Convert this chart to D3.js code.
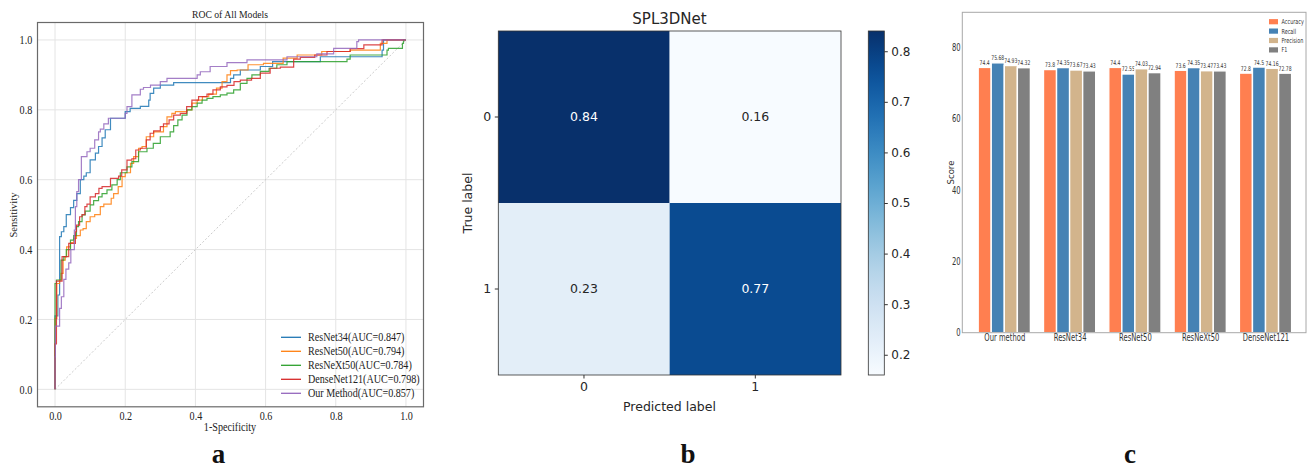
<!DOCTYPE html>
<html>
<head>
<meta charset="utf-8">
<script src="https://cdnjs.cloudflare.com/ajax/libs/d3/7.8.5/d3.min.js"></script>
<style>body{margin:0;background:#fff}</style>
</head>
<body>
<div id="fig"></div>
<script>
// ---- panel a : ROC curves ----
const rocNames = ['ResNet34(AUC=0.847)', 'ResNet50(AUC=0.794)', 'ResNeXt50(AUC=0.784)', 'DenseNet121(AUC=0.798)', 'Our Method(AUC=0.857)'];
const rocTicks = [0, 0.2, 0.4, 0.6, 0.8, 1.0];

const rocResNet34 = [[0,0],[0,0.12],[0.008,0.21],[0.013,0.27],[0.018,0.437],[0.025,0.451],[0.032,0.466],[0.044,0.50],[0.053,0.52],[0.062,0.541],[0.072,0.56],[0.082,0.60],[0.089,0.61],[0.10,0.62],[0.115,0.657],[0.124,0.676],[0.134,0.695],[0.143,0.72],[0.158,0.743],[0.172,0.776],[0.20,0.776],[0.214,0.795],[0.243,0.804],[0.267,0.81],[0.271,0.828],[0.281,0.847],[0.30,0.862],[0.338,0.871],[0.395,0.878],[0.50,0.878],[0.509,0.89],[0.528,0.90],[0.585,0.914],[0.62,0.924],[0.68,0.938],[0.756,0.938],[0.76,0.952],[0.932,0.952],[0.936,0.971],[0.95,1.0],[1,1]];
const rocResNet50 = [[0,0],[0,0.093],[0.005,0.203],[0.005,0.29],[0.013,0.303],[0.017,0.313],[0.023,0.332],[0.029,0.37],[0.033,0.38],[0.044,0.408],[0.053,0.42],[0.061,0.432],[0.072,0.44],[0.08,0.456],[0.089,0.46],[0.10,0.48],[0.113,0.494],[0.129,0.50],[0.139,0.523],[0.16,0.53],[0.167,0.547],[0.18,0.56],[0.191,0.58],[0.20,0.609],[0.215,0.62],[0.224,0.647],[0.238,0.666],[0.248,0.69],[0.26,0.695],[0.281,0.723],[0.295,0.737],[0.309,0.737],[0.319,0.752],[0.333,0.78],[0.343,0.79],[0.376,0.795],[0.39,0.80],[0.405,0.819],[0.42,0.828],[0.438,0.838],[0.46,0.845],[0.476,0.862],[0.49,0.881],[0.50,0.90],[0.519,0.912],[0.55,0.914],[0.594,0.929],[0.65,0.933],[0.69,0.948],[0.76,0.957],[0.841,0.967],[0.927,0.971],[0.946,0.99],[0.96,1.0],[1,1]];
const rocResNeXt50 = [[0,0],[0,0.218],[0.004,0.303],[0.017,0.313],[0.025,0.37],[0.032,0.38],[0.044,0.40],[0.053,0.427],[0.061,0.44],[0.067,0.466],[0.077,0.48],[0.086,0.499],[0.10,0.51],[0.11,0.528],[0.124,0.54],[0.134,0.551],[0.148,0.56],[0.162,0.571],[0.177,0.585],[0.186,0.60],[0.205,0.62],[0.219,0.637],[0.238,0.652],[0.262,0.68],[0.28,0.69],[0.30,0.704],[0.328,0.723],[0.338,0.737],[0.35,0.755],[0.362,0.771],[0.376,0.785],[0.39,0.80],[0.405,0.809],[0.419,0.819],[0.433,0.828],[0.45,0.833],[0.471,0.838],[0.49,0.843],[0.509,0.848],[0.528,0.857],[0.547,0.876],[0.561,0.89],[0.585,0.90],[0.61,0.91],[0.632,0.919],[0.661,0.929],[0.704,0.938],[0.832,0.938],[0.841,0.945],[0.908,0.957],[0.946,0.957],[0.95,0.971],[0.99,0.976],[0.993,0.99],[1,1]];
const rocDenseNet121 = [[0,0],[0,0.093],[0.004,0.13],[0.004,0.303],[0.02,0.31],[0.023,0.38],[0.039,0.38],[0.042,0.418],[0.058,0.418],[0.061,0.451],[0.07,0.47],[0.077,0.494],[0.085,0.50],[0.091,0.523],[0.10,0.53],[0.115,0.551],[0.125,0.56],[0.134,0.575],[0.158,0.58],[0.181,0.604],[0.19,0.61],[0.205,0.628],[0.219,0.656],[0.23,0.66],[0.243,0.685],[0.26,0.69],[0.271,0.714],[0.281,0.733],[0.30,0.74],[0.309,0.752],[0.325,0.76],[0.338,0.771],[0.357,0.785],[0.375,0.79],[0.39,0.809],[0.409,0.828],[0.433,0.838],[0.45,0.845],[0.471,0.857],[0.49,0.866],[0.51,0.87],[0.528,0.881],[0.56,0.885],[0.585,0.89],[0.613,0.905],[0.642,0.919],[0.68,0.922],[0.699,0.945],[0.74,0.95],[0.775,0.957],[0.841,0.967],[0.88,0.975],[0.932,0.986],[0.946,1.0],[1,1]];
const rocOurMethod = [[0,0],[0.001,0.093],[0.013,0.181],[0.018,0.232],[0.025,0.265],[0.031,0.315],[0.039,0.344],[0.045,0.362],[0.055,0.40],[0.058,0.456],[0.062,0.523],[0.067,0.566],[0.075,0.6],[0.091,0.666],[0.10,0.68],[0.113,0.69],[0.124,0.714],[0.129,0.737],[0.139,0.745],[0.152,0.76],[0.158,0.776],[0.20,0.776],[0.205,0.79],[0.219,0.809],[0.243,0.843],[0.252,0.859],[0.272,0.864],[0.30,0.871],[0.319,0.881],[0.352,0.89],[0.405,0.89],[0.414,0.90],[0.442,0.909],[0.49,0.924],[0.547,0.935],[0.661,0.943],[0.746,0.952],[0.794,0.96],[0.86,0.976],[0.865,0.995],[0.936,1.0],[1,1]];

// ---- panel b : confusion matrix ----
const cmLabels = ['0', '1'];
const cmRow0 = [0.84, 0.16];
const cmRow1 = [0.23, 0.77];
const cbTicks = [0.2, 0.3, 0.4, 0.5, 0.6, 0.7, 0.8];

// ---- panel c : bar chart ----
const barModels = ['Our method', 'ResNet34', 'ResNet50', 'ResNeXt50', 'DenseNet121'];
const metricNames = ['Accuracy', 'Recall', 'Precision', 'F1'];
const accuracy = [74.4, 73.8, 74.4, 73.6, 72.8];
const recall = [75.68, 74.35, 72.55, 74.35, 74.5];
const precision = [74.93, 73.67, 74.03, 73.47, 74.16];
const f1 = [74.32, 73.43, 72.94, 73.43, 72.78];
const scoreTicks = [0, 20, 40, 60, 80];

const rocColors = ['#1f77b4', '#ff7f0e', '#2ca02c', '#d62728', '#9467bd'];
const metricColors = ['#ff7f50', '#4682b4', '#d2b48c', '#808080'];
const serif = "'Liberation Serif','Times New Roman',serif";
const sans = "'DejaVu Sans',sans-serif";

const svg = d3.select('#fig').append('svg')
  .attr('width', 1310)
  .attr('height', 469)
  .style('background', '#fff');

// ================= a =================
const xA = d3.scaleLinear().domain([-0.05, 1.05]).range([37.5, 423.5]);
const yA = d3.scaleLinear().domain([-0.05, 1.05]).range([406.8, 22.5]);
const gA = svg.append('g');
const sxA = 0.88;

gA.selectAll('.vgrid').data(rocTicks).enter().append('line')
  .attr('x1', d => xA(d)).attr('x2', d => xA(d))
  .attr('y1', yA(-0.05)).attr('y2', yA(1.05))
  .attr('stroke', '#e4e4e4').attr('stroke-width', 1);
gA.selectAll('.hgrid').data(rocTicks).enter().append('line')
  .attr('y1', d => yA(d)).attr('y2', d => yA(d))
  .attr('x1', xA(-0.05)).attr('x2', xA(1.05))
  .attr('stroke', '#e4e4e4').attr('stroke-width', 1);

gA.append('line')
  .attr('x1', xA(0)).attr('y1', yA(0)).attr('x2', xA(1)).attr('y2', yA(1))
  .attr('stroke', '#bdbdbd').attr('stroke-width', 0.8).attr('stroke-dasharray', '2,2');

const rocSeries = [rocResNet34, rocResNet50, rocResNeXt50, rocDenseNet121, rocOurMethod];
const rocLine = d3.line().x(d => xA(d[0])).y(d => yA(d[1])).curve(d3.curveStepBefore);
rocSeries.forEach((s, i) => {
  gA.append('path').datum(s)
    .attr('d', rocLine)
    .attr('fill', 'none')
    .attr('stroke', rocColors[i])
    .attr('stroke-width', 1.2)
    .attr('opacity', 0.85);
});

gA.append('rect')
  .attr('x', xA(-0.05)).attr('y', yA(1.05))
  .attr('width', xA(1.05) - xA(-0.05)).attr('height', yA(-0.05) - yA(1.05))
  .attr('fill', 'none').attr('stroke', '#6a6a6a').attr('stroke-width', 1.2);

gA.append('g')
  .attr('transform', 'translate(0,' + yA(-0.05) + ')')
  .call(d3.axisBottom(xA).tickValues(rocTicks).tickFormat(d3.format('.1f')).tickSize(0).tickPadding(5))
  .call(g => g.select('.domain').remove())
  .selectAll('text')
  .attr('font-family', serif).attr('font-size', 11.5).attr('fill', '#222')
  .attr('transform', 'scale(' + sxA + ',1)');
gA.append('g')
  .attr('transform', 'translate(' + xA(-0.05) + ',0)')
  .call(d3.axisLeft(yA).tickValues(rocTicks).tickFormat(d3.format('.1f')).tickSize(0).tickPadding(6))
  .call(g => g.select('.domain').remove())
  .selectAll('text')
  .attr('font-family', serif).attr('font-size', 11.5).attr('fill', '#222')
  .attr('transform', 'scale(' + sxA + ',1)');

gA.append('text')
  .attr('x', 230 / sxA).attr('y', 18.5).attr('transform', 'scale(' + sxA + ',1)')
  .attr('text-anchor', 'middle').attr('font-family', serif).attr('font-size', 11).attr('fill', '#222')
  .text('ROC of All Models');
gA.append('text')
  .attr('x', 230 / sxA).attr('y', 431).attr('transform', 'scale(' + sxA + ',1)')
  .attr('text-anchor', 'middle').attr('font-family', serif).attr('font-size', 11.5).attr('fill', '#222')
  .text('1-Specificity');
gA.append('text')
  .attr('transform', 'translate(17,215) rotate(-90)')
  .attr('text-anchor', 'middle').attr('font-family', serif).attr('font-size', 10.5).attr('fill', '#222')
  .text('Sensitivity');

const legA = gA.append('g');
rocNames.forEach((name, i) => {
  const y = 337.3 + i * 14;
  legA.append('line').attr('x1', 281).attr('x2', 301).attr('y1', y).attr('y2', y)
    .attr('stroke', rocColors[i]).attr('stroke-width', 1.3);
  legA.append('text').attr('x', 308 / sxA).attr('y', y).attr('dy', '0.35em')
    .attr('transform', 'scale(' + sxA + ',1)')
    .attr('font-family', serif).attr('font-size', 11.5).attr('fill', '#222')
    .text(name);
});

// ================= b =================
const gB = svg.append('g');
const xB = d3.scaleBand().domain(cmLabels).range([498.3, 841]);
const yB = d3.scaleBand().domain(cmLabels).range([31, 375]);
const cmColor = d3.scaleSequential(d3.interpolateBlues).domain([0.16, 0.84]);
const cmRows = [cmRow0, cmRow1];
const cmCells = [];
cmRows.forEach((row, r) => row.forEach((v, c) => cmCells.push({ r: cmLabels[r], c: cmLabels[c], v: v })));

gB.selectAll('rect.cell').data(cmCells).enter().append('rect')
  .attr('x', d => xB(d.c)).attr('y', d => yB(d.r))
  .attr('width', xB.bandwidth()).attr('height', yB.bandwidth())
  .attr('fill', d => cmColor(d.v));
gB.selectAll('text.cell').data(cmCells).enter().append('text')
  .attr('x', d => xB(d.c) + xB.bandwidth() / 2)
  .attr('y', d => yB(d.r) + yB.bandwidth() / 2)
  .attr('dy', '0.35em').attr('text-anchor', 'middle')
  .attr('font-family', sans).attr('font-size', 12.5)
  .attr('fill', d => d.v > 0.5 ? '#ffffff' : '#262626')
  .text(d => d3.format('.2f')(d.v));
gB.append('rect')
  .attr('x', 498.3).attr('y', 31).attr('width', 841 - 498.3).attr('height', 375 - 31)
  .attr('fill', 'none').attr('stroke', '#333').attr('stroke-width', 0.8);

gB.append('g').attr('transform', 'translate(0,375)')
  .call(d3.axisBottom(xB).tickSize(3.5).tickPadding(3.5))
  .call(g => g.select('.domain').remove())
  .call(g => g.selectAll('line').attr('stroke', '#333'))
  .selectAll('text').attr('font-family', sans).attr('font-size', 12.5).attr('fill', '#262626');
gB.append('g').attr('transform', 'translate(498.3,0)')
  .call(d3.axisLeft(yB).tickSize(3.5).tickPadding(3.5))
  .call(g => g.select('.domain').remove())
  .call(g => g.selectAll('line').attr('stroke', '#333'))
  .selectAll('text').attr('font-family', sans).attr('font-size', 12.5).attr('fill', '#262626');

gB.append('text').attr('x', 669.5).attr('y', 24).attr('text-anchor', 'middle')
  .attr('font-family', sans).attr('font-size', 15).attr('fill', '#262626').text('SPL3DNet');
gB.append('text').attr('x', 669.5).attr('y', 411).attr('text-anchor', 'middle')
  .attr('font-family', sans).attr('font-size', 12.5).attr('fill', '#262626').text('Predicted label');
gB.append('text').attr('transform', 'translate(472,203) rotate(-90)').attr('text-anchor', 'middle')
  .attr('font-family', sans).attr('font-size', 12.5).attr('fill', '#262626').text('True label');

// colour bar
const yCb = d3.scaleLinear().domain([0.16, 0.84]).range([375, 31]);
const grad = svg.append('defs').append('linearGradient').attr('id', 'cbGrad')
  .attr('x1', 0).attr('y1', 1).attr('x2', 0).attr('y2', 0);
d3.range(0, 1.0001, 0.05).forEach(t => {
  grad.append('stop').attr('offset', t).attr('stop-color', d3.interpolateBlues(t));
});
gB.append('rect').attr('x', 868.3).attr('y', 31).attr('width', 16).attr('height', 344)
  .attr('fill', 'url(#cbGrad)').attr('stroke', '#333').attr('stroke-width', 0.8);
gB.append('g').attr('transform', 'translate(884.3,0)')
  .call(d3.axisRight(yCb).tickValues(cbTicks).tickFormat(d3.format('.1f')).tickSize(3.5).tickPadding(3.5))
  .call(g => g.select('.domain').remove())
  .call(g => g.selectAll('line').attr('stroke', '#333'))
  .selectAll('text').attr('font-family', sans).attr('font-size', 12).attr('fill', '#262626');

// ================= c =================
const gC = svg.append('g');
const sxC = 0.68;
const xC = d3.scaleLinear().domain([-0.643, 4.62]).range([962.3, 1306]);
const yC = d3.scaleLinear().domain([0, 89.85]).range([332.7, 12.3]);
const barW = 0.2;
const metricSeries = [accuracy, recall, precision, f1];

metricSeries.forEach((vals, m) => {
  const off = (m - 1.5) * barW;
  const bars = gC.append('g');
  bars.selectAll('rect').data(vals).enter().append('rect')
    .attr('x', (d, i) => xC(i + off - barW / 2))
    .attr('y', d => yC(d))
    .attr('width', xC(barW) - xC(0))
    .attr('height', d => yC(0) - yC(d))
    .attr('fill', metricColors[m])
    .attr('stroke', '#fff').attr('stroke-width', 1.4);
  bars.selectAll('text').data(vals).enter().append('text')
    .attr('x', (d, i) => xC(i + off) / 0.7)
    .attr('y', d => yC(d) - 2.5)
    .attr('transform', 'scale(0.7,1)')
    .attr('text-anchor', 'middle').attr('font-family', sans).attr('font-size', 6.5).attr('fill', '#333')
    .text(d => String(d));
});

gC.append('rect').attr('x', 962.3).attr('y', 12.3).attr('width', 1306 - 962.3).attr('height', 332.7 - 12.3)
  .attr('fill', 'none').attr('stroke', '#a8a8a8').attr('stroke-width', 1);

gC.append('g').attr('transform', 'translate(962.3,0)')
  .call(d3.axisLeft(yC).tickValues(scoreTicks).tickSize(0).tickPadding(2.5))
  .call(g => g.select('.domain').remove())
  .selectAll('text').attr('font-family', sans).attr('font-size', 10).attr('fill', '#333')
  .attr('transform', 'scale(' + sxC + ',1)');
gC.append('g').attr('transform', 'translate(0,332.7)')
  .call(d3.axisBottom(d3.scalePoint().domain(barModels).range([xC(0), xC(4)])).tickSize(0).tickPadding(1.5))
  .call(g => g.select('.domain').remove())
  .selectAll('text').attr('font-family', sans).attr('font-size', 10).attr('fill', '#333')
  .attr('transform', 'scale(' + sxC + ',1)');
gC.append('text').attr('transform', 'translate(953.5,172.5) rotate(-90)').attr('text-anchor', 'middle')
  .attr('font-family', sans).attr('font-size', 8.5).attr('fill', '#333').text('Score');

const legC = gC.append('g');
metricNames.forEach((name, i) => {
  const y = 21.7 + i * 9.4;
  legC.append('rect').attr('x', 1269).attr('y', y - 2.6).attr('width', 9).attr('height', 5.2)
    .attr('fill', metricColors[i]);
  legC.append('text').attr('x', 1281.5 / 0.7).attr('y', y).attr('dy', '0.35em')
    .attr('transform', 'scale(0.7,1)')
    .attr('font-family', sans).attr('font-size', 7).attr('fill', '#333').text(name);
});

// ---- panel letters ----
const letters = [['a', 218.5], ['b', 688], ['c', 1130]];
svg.selectAll('text.letter').data(letters).enter().append('text')
  .attr('x', d => d[1]).attr('y', 463).attr('text-anchor', 'middle')
  .attr('font-family', serif).attr('font-weight', 'bold').attr('font-size', 27).attr('fill', '#111')
  .text(d => d[0]);
</script>
</body>
</html>
